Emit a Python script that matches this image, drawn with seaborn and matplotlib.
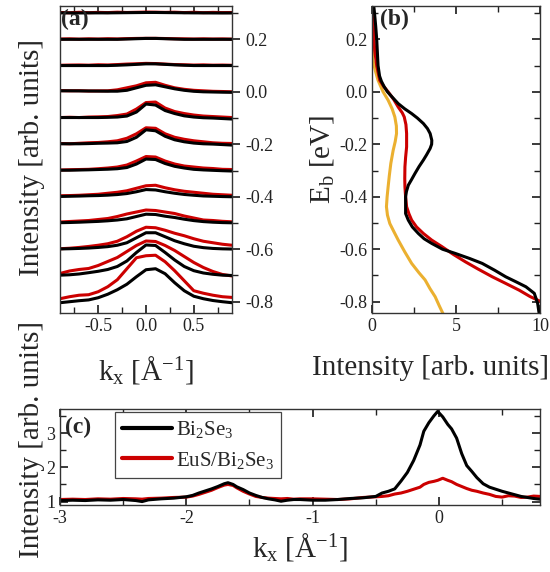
import numpy as np
import pandas as pd
import matplotlib
matplotlib.use("Agg")
import matplotlib.pyplot as plt
import seaborn as sns
from matplotlib.ticker import MultipleLocator, FixedLocator, FormatStrFormatter
from matplotlib.lines import Line2D

# ---------------- data ----------------
# (a) MDC stack: binding energies (baselines) and k_x grid
mdc_energies = [0.3, 0.2, 0.1, 0.0, -0.1, -0.2, -0.3, -0.4, -0.5, -0.6, -0.7, -0.8]
mdc_kx = [-0.9, -0.8, -0.7, -0.6, -0.5, -0.4, -0.3, -0.2, -0.1, 0.0,
          0.1, 0.2, 0.3, 0.4, 0.5, 0.6, 0.7, 0.8, 0.9]
# intensities (arb. units) for Bi2Se3 (black)
mdc_bi2se3 = [
    [0.2, 0.2, 0.1, 0.2, 0.2, 0.2, 0.3, 0.4, 0.5, 0.6, 0.6, 0.5, 0.4, 0.3, 0.2, 0.2, 0.1, 0.1, 0.1],
    [0.0, 0.0, 0.0, 0.0, 0.0, 0.0, 0.0, 0.3, 0.6, 0.9, 0.9, 0.6, 0.3, 0.0, 0.0, 0.0, 0.0, 0.0, 0.0],
    [0.0, 0.0, 0.0, 0.0, 0.0, 0.0, 0.3, 0.7, 1.2, 1.7, 1.7, 1.2, 0.7, 0.3, 0.0, 0.0, 0.0, 0.0, 0.0],
    [1.0, 1.0, 0.9, 0.8, 0.7, 0.6, 0.6, 1.5, 4.0, 6.5, 7.0, 5.0, 3.0, 1.5, 0.5, 0.0, -0.2, -0.4, -0.5],
    [0.5, 0.5, 0.5, 0.5, 0.5, 0.7, 1.0, 2.0, 6.0, 14.0, 13.0, 7.5, 4.5, 2.2, 1.0, 0.3, 0.0, -0.5, -1.0],
    [0.5, 0.5, 0.5, 0.7, 1.0, 1.2, 1.5, 2.8, 7.0, 14.5, 13.5, 8.0, 4.5, 2.5, 1.2, 0.5, 0.2, -0.3, -0.8],
    [0.3, 0.3, 0.5, 0.7, 1.0, 1.3, 1.8, 3.0, 6.5, 11.5, 11.0, 7.0, 4.2, 2.5, 1.2, 0.6, 0.2, -0.2, -0.5],
    [0.3, 0.5, 0.7, 1.0, 1.2, 1.6, 2.2, 3.2, 5.0, 7.2, 6.8, 5.0, 3.5, 2.3, 1.5, 0.8, 0.5, 0.2, 0.0],
    [0.3, 0.5, 0.8, 1.2, 1.6, 2.2, 3.0, 4.2, 6.5, 8.8, 8.5, 6.8, 5.5, 3.8, 2.4, 1.4, 0.8, 0.4, 0.2],
    [0.3, 0.5, 0.8, 1.2, 1.8, 2.6, 4.0, 6.5, 11.5, 16.5, 16.5, 12.5, 8.5, 5.5, 3.0, 1.6, 0.8, 0.4, 0.2],
    [0.3, 0.7, 1.5, 2.8, 4.2, 6.0, 9.0, 14.5, 23.0, 30.5, 30.0, 23.0, 15.5, 9.0, 4.8, 2.5, 1.2, 0.3, 0.0],
    [-1.0, 0.0, 1.0, 1.8, 4.0, 7.5, 12.0, 17.5, 25.0, 32.0, 33.0, 28.0, 19.0, 11.0, 5.5, 3.0, 1.2, 0.0, -1.0],
]
# intensities (arb. units) for EuS/Bi2Se3 (red)
mdc_eus = [
    [0.6, 0.3, 0.8, 0.4, 0.7, 0.5, 0.9, 0.6, 0.8, 1.0, 0.9, 0.7, 0.9, 0.5, 0.8, 0.4, 0.7, 0.5, 0.6],
    [0.3, 0.5, 0.2, 0.5, 0.3, 0.6, 0.4, 0.7, 0.9, 1.0, 1.0, 0.8, 0.6, 0.5, 0.3, 0.5, 0.3, 0.4, 0.2],
    [0.3, 0.5, 0.6, 0.4, 0.8, 0.6, 1.0, 1.5, 1.8, 2.2, 2.0, 1.5, 1.0, 0.8, 0.5, 0.7, 0.4, 0.5, 0.3],
    [1.2, 1.0, 1.1, 0.8, 0.9, 1.0, 2.0, 4.0, 6.0, 9.0, 9.5, 6.5, 4.0, 2.5, 1.5, 1.0, 0.5, 0.3, 0.0],
    [0.5, 0.8, 0.5, 1.0, 1.2, 1.5, 2.5, 4.0, 9.0, 15.5, 16.0, 10.0, 6.5, 4.5, 3.0, 2.0, 1.5, 1.0, 0.5],
    [0.8, 0.5, 1.0, 1.5, 1.8, 2.5, 3.5, 6.0, 10.5, 16.5, 16.0, 10.5, 7.0, 5.0, 3.5, 2.5, 1.5, 1.0, 0.8],
    [0.5, 0.8, 1.0, 1.2, 1.8, 2.5, 3.5, 5.5, 9.5, 14.0, 13.5, 9.5, 6.5, 4.5, 3.5, 2.5, 2.0, 1.2, 1.0],
    [1.0, 1.2, 1.5, 2.0, 2.5, 3.5, 4.5, 6.0, 8.5, 11.0, 11.5, 9.0, 7.0, 5.5, 4.5, 3.5, 2.5, 2.0, 1.5],
    [1.0, 1.5, 2.0, 2.5, 3.5, 4.5, 6.5, 9.0, 11.0, 13.0, 12.5, 11.0, 9.5, 7.0, 5.0, 3.0, 2.5, 1.7, 1.2],
    [0.5, 1.0, 1.8, 2.8, 4.0, 5.5, 8.0, 12.5, 18.0, 22.0, 21.5, 19.0, 16.0, 13.5, 10.5, 8.0, 6.5, 5.0, 4.0],
    [2.0, 4.5, 6.0, 7.0, 10.0, 14.0, 18.0, 24.0, 30.0, 34.5, 34.0, 30.0, 25.0, 19.0, 13.0, 8.0, 4.0, 1.0, -0.5],
    [3.0, 5.0, 6.5, 7.0, 10.0, 15.0, 22.0, 33.0, 44.0, 46.0, 46.5, 40.0, 31.0, 21.0, 11.0, 8.5, 6.5, 5.0, 4.3],
]

# (b) EDCs: binding energy vs intensity
edc_e_bi2se3 = [0.33, 0.30, 0.25, 0.20, 0.15, 0.10, 0.06, 0.04, 0.02, 0.0, -0.02, -0.045, -0.065,
                -0.083, -0.10, -0.121, -0.14, -0.159, -0.185, -0.20, -0.216, -0.24, -0.26, -0.285,
                -0.311, -0.335, -0.356, -0.38, -0.40, -0.43, -0.464, -0.489, -0.515, -0.54, -0.56,
                -0.578, -0.60, -0.616, -0.635, -0.654, -0.68, -0.705, -0.725, -0.743, -0.768,
                -0.806, -0.85]
edc_i_bi2se3 = [0.10, 0.15, 0.22, 0.28, 0.32, 0.36, 0.45, 0.56, 0.72, 0.92, 1.20, 1.56, 1.95,
                2.36, 2.70, 3.06, 3.30, 3.46, 3.56, 3.55, 3.46, 3.25, 3.06, 2.80,
                2.56, 2.35, 2.16, 2.05, 2.00, 2.00, 2.00, 2.16, 2.40, 2.76, 3.10,
                3.56, 4.20, 4.96, 5.80, 6.56, 7.30, 7.96, 8.60, 9.16, 9.66,
                9.86, 9.96]
edc_e_eus = [0.33, 0.30, 0.25, 0.20, 0.158, 0.10, 0.044, 0.02, 0.0, -0.03, -0.058, -0.08, -0.096,
             -0.125, -0.159, -0.21, -0.25, -0.286, -0.33, -0.362, -0.40, -0.438, -0.465, -0.489,
             -0.515, -0.54, -0.565, -0.59, -0.62, -0.648, -0.675, -0.705, -0.73, -0.756, -0.78,
             -0.80, -0.82]
edc_i_eus = [-0.05, 0.0, 0.08, 0.12, 0.16, 0.28, 0.46, 0.70, 0.96, 1.30, 1.56, 1.80, 1.92,
             2.02, 2.06, 2.06, 2.00, 1.96, 1.95, 1.96, 2.00, 2.06, 2.20, 2.36,
             2.65, 3.06, 3.55, 4.16, 4.85, 5.56, 6.30, 7.16, 7.95, 8.76, 9.40,
             10.06, 10.50]
edc_e_ref = [0.22, 0.18, 0.12, 0.08, 0.044, 0.0, -0.032, -0.065, -0.096, -0.13, -0.159, -0.19,
             -0.223, -0.273, -0.32, -0.362, -0.40, -0.438, -0.47, -0.502, -0.53, -0.565, -0.61,
             -0.654, -0.69, -0.717, -0.75, -0.781, -0.815, -0.85]
edc_i_ref = [-0.10, 0.0, 0.06, 0.20, 0.36, 0.66, 0.96, 1.20, 1.36, 1.45, 1.46, 1.38,
             1.26, 1.12, 1.03, 0.96, 0.90, 0.86, 0.92, 1.06, 1.28, 1.56, 1.95,
             2.36, 2.80, 3.16, 3.45, 3.76, 4.00, 4.26]

# (c) wide MDC
mdc_wide_kx = [-3.0, -2.9, -2.8, -2.7, -2.6, -2.5, -2.4, -2.35, -2.3, -2.2, -2.1, -2.0, -1.95, -1.9,
               -1.85, -1.8, -1.75, -1.7, -1.67, -1.63, -1.6, -1.55, -1.5, -1.45, -1.4, -1.35, -1.3,
               -1.25, -1.2, -1.15, -1.1, -1.0, -0.9, -0.8, -0.7, -0.6, -0.5, -0.45, -0.4, -0.35,
               -0.3, -0.25, -0.2, -0.15, -0.12, -0.08, -0.04, -0.01, 0.03, 0.07, 0.1, 0.14, 0.18,
               0.22, 0.26, 0.3, 0.35, 0.4, 0.45, 0.5, 0.55, 0.6, 0.65, 0.7, 0.75, 0.8]
mdc_wide_bi2se3 = [1.03, 1.04, 1.03, 1.05, 1.04, 1.06, 1.03, 1.00, 1.05, 1.08, 1.10, 1.14, 1.18, 1.25,
                   1.31, 1.37, 1.44, 1.52, 1.55, 1.50, 1.43, 1.35, 1.25, 1.18, 1.12, 1.08, 1.05,
                   1.01, 1.04, 1.06, 1.06, 1.04, 1.04, 1.06, 1.09, 1.11, 1.15, 1.25, 1.30, 1.37,
                   1.60, 1.85, 2.20, 2.65, 3.05, 3.30, 3.50, 3.63, 3.47, 3.25, 3.12, 2.85, 2.40,
                   2.05, 1.88, 1.70, 1.52, 1.42, 1.36, 1.30, 1.25, 1.20, 1.15, 1.12, 1.09, 1.07]
mdc_wide_eus = [1.06, 1.07, 1.06, 1.08, 1.07, 1.09, 1.08, 1.07, 1.09, 1.10, 1.12, 1.13, 1.16, 1.21,
                1.27, 1.33, 1.41, 1.48, 1.50, 1.47, 1.40, 1.30, 1.22, 1.15, 1.12, 1.10, 1.09,
                1.08, 1.09, 1.07, 1.08, 1.08, 1.07, 1.06, 1.08, 1.12, 1.14, 1.15, 1.17, 1.22,
                1.25, 1.30, 1.36, 1.42, 1.50, 1.56, 1.59, 1.62, 1.68, 1.62, 1.58, 1.50, 1.44,
                1.38, 1.33, 1.30, 1.25, 1.21, 1.15, 1.13, 1.17, 1.16, 1.12, 1.13, 1.16, 1.15]
sample_names = ["Bi$_2$Se$_3$", "EuS/Bi$_2$Se$_3$"]

# ---------------- style ----------------
BLACK = "#000000"
RED = "#CC0000"
ORANGE = "#EBB030"
MDC_SCALE = 1.0 / 262.5

sns.set_theme(style="ticks")
plt.rcParams["font.family"] = ["Liberation Serif", "DejaVu Serif"]
plt.rcParams["mathtext.fontset"] = "custom"
plt.rcParams["mathtext.rm"] = "Liberation Serif"
plt.rcParams["mathtext.it"] = "Liberation Serif:italic"
plt.rcParams["mathtext.bf"] = "Liberation Serif:bold"
plt.rcParams["axes.unicode_minus"] = False
plt.rcParams["axes.linewidth"] = 1.0
plt.rcParams["axes.edgecolor"] = "#333333"

TICK_FS = 13
LABEL_FS = 21
PANEL_FS = 17

W, H = 550, 572
fig = plt.figure(figsize=(W / 100, H / 100), dpi=100)


def box(l, t, r, b):
    return [l / W, 1 - b / H, (r - l) / W, (b - t) / H]


ax_a = fig.add_axes(box(60, 6, 232, 313))
ax_b = fig.add_axes(box(372, 6, 540, 313))
ax_c = fig.add_axes(box(60, 409, 540, 505))

ylim_e = (-0.843, 0.327)

# ---- (a) ----
kx = np.array(mdc_kx)
for e, blk, red in zip(mdc_energies, mdc_bi2se3, mdc_eus):
    sns.lineplot(x=kx, y=e + np.array(red) * MDC_SCALE, ax=ax_a, color=RED, lw=2.2,
                 estimator=None, sort=False, legend=False)
    sns.lineplot(x=kx, y=e + np.array(blk) * MDC_SCALE, ax=ax_a, color=BLACK, lw=2.2,
                 estimator=None, sort=False, legend=False)
ax_a.set_xlim(-0.9, 0.9)
ax_a.set_ylim(*ylim_e)
ax_a.yaxis.tick_right()
ax_a.yaxis.set_major_locator(FixedLocator([-0.8, -0.6, -0.4, -0.2, 0.0, 0.2]))
ax_a.yaxis.set_minor_locator(MultipleLocator(0.1))
ax_a.yaxis.set_major_formatter(FormatStrFormatter("%.1f"))
ax_a.xaxis.set_major_locator(FixedLocator([-0.5, 0.0, 0.5]))
ax_a.xaxis.set_minor_locator(MultipleLocator(0.25))
ax_a.xaxis.set_major_formatter(FormatStrFormatter("%.1f"))
ax_a.tick_params(axis="y", which="both", direction="out", left=False, right=True,
                 labelleft=False, labelright=True, labelsize=TICK_FS, colors="#222222")
ax_a.tick_params(axis="y", which="major", length=6)
ax_a.tick_params(axis="y", which="minor", length=4)
ax_a.tick_params(axis="x", which="both", direction="in", top=True, bottom=True,
                 labelsize=TICK_FS, colors="#222222")
ax_a.tick_params(axis="x", which="major", length=6)
ax_a.tick_params(axis="x", which="minor", length=4)
ax_a.set_xlabel("")
ax_a.set_ylabel("")
ax_a.text(0.008, 0.992, "(a)", transform=ax_a.transAxes, fontsize=PANEL_FS,
          fontweight="bold", va="top", ha="left")

# ---- (b) ----
sns.lineplot(x=edc_i_ref, y=edc_e_ref, ax=ax_b, color=ORANGE, lw=2.2,
             estimator=None, sort=False, legend=False)
sns.lineplot(x=edc_i_eus, y=edc_e_eus, ax=ax_b, color=RED, lw=2.2,
             estimator=None, sort=False, legend=False)
sns.lineplot(x=edc_i_bi2se3, y=edc_e_bi2se3, ax=ax_b, color=BLACK, lw=2.2,
             estimator=None, sort=False, legend=False)
ax_b.set_xlim(0, 10)
ax_b.set_ylim(*ylim_e)
ax_b.yaxis.set_major_locator(FixedLocator([-0.8, -0.6, -0.4, -0.2, 0.0, 0.2]))
ax_b.yaxis.set_minor_locator(MultipleLocator(0.1))
ax_b.yaxis.set_major_formatter(FormatStrFormatter("%.1f"))
ax_b.xaxis.set_major_locator(FixedLocator([0, 5, 10]))
ax_b.xaxis.set_minor_locator(MultipleLocator(2.5))
ax_b.tick_params(axis="both", which="both", direction="in", top=True, bottom=True,
                 left=True, right=True, labelsize=TICK_FS, colors="#222222")
ax_b.tick_params(axis="both", which="major", length=6)
ax_b.tick_params(axis="both", which="minor", length=4)
ax_b.set_xlabel("")
ax_b.set_ylabel("E$_\\mathrm{b}$ [eV]", fontsize=LABEL_FS, labelpad=2)
ax_b.text(0.05, 0.99, "(b)", transform=ax_b.transAxes, fontsize=PANEL_FS,
          fontweight="bold", va="top", ha="left")

# ---- (c) ----
sns.lineplot(x=mdc_wide_kx, y=mdc_wide_eus, ax=ax_c, color=RED, lw=2.2,
             estimator=None, sort=False, legend=False)
sns.lineplot(x=mdc_wide_kx, y=mdc_wide_bi2se3, ax=ax_c, color=BLACK, lw=2.2,
             estimator=None, sort=False, legend=False)
ax_c.set_xlim(-3.0, 0.8)
ax_c.set_ylim(0.9, 3.7)
ax_c.xaxis.set_major_locator(FixedLocator([-3, -2, -1, 0]))
ax_c.xaxis.set_minor_locator(MultipleLocator(0.5))
ax_c.yaxis.set_major_locator(FixedLocator([1, 2, 3]))
ax_c.yaxis.set_minor_locator(MultipleLocator(0.5))
ax_c.tick_params(axis="both", which="both", direction="in", top=True, bottom=True,
                 left=True, right=True, labelsize=TICK_FS, colors="#222222")
ax_c.tick_params(axis="both", which="major", length=6)
ax_c.tick_params(axis="both", which="minor", length=4)
ax_c.set_xlabel("k$_\\mathrm{x}$ [Å$^{-1}$]", fontsize=LABEL_FS, labelpad=3)
ax_c.set_ylabel("")
ax_c.text(0.01, 0.92, "(c)", transform=ax_c.transAxes, fontsize=PANEL_FS,
          fontweight="bold", va="top", ha="left")
handles = [Line2D([], [], color=BLACK, lw=3), Line2D([], [], color=RED, lw=3)]
leg = ax_c.legend(handles, sample_names, loc="upper left", bbox_to_anchor=(0.115, 0.97),
                  borderaxespad=0, fontsize=15, handlelength=2.4, handletextpad=0.15,
                  borderpad=0.35, labelspacing=0.45, fancybox=False, framealpha=1,
                  edgecolor="#444444")
leg.get_frame().set_linewidth(0.9)

# shared-style labels placed as in the reference
fig.text(32 / W, 1 - 157 / H, "Intensity [arb. units]", rotation=90, fontsize=LABEL_FS,
         ha="center", va="center")
fig.text(32 / W, 1 - 440 / H, "Intensity [arb. units]", rotation=90, fontsize=LABEL_FS,
         ha="center", va="center")
fig.text(146 / W, 1 - 370 / H, "k$_\\mathrm{x}$ [Å$^{-1}$]", fontsize=LABEL_FS,
         ha="center", va="center")
fig.text(549 / W, 1 - 368 / H, "Intensity [arb. units]", fontsize=LABEL_FS,
         ha="right", va="center")

fig.savefig("out.png", dpi=100)
